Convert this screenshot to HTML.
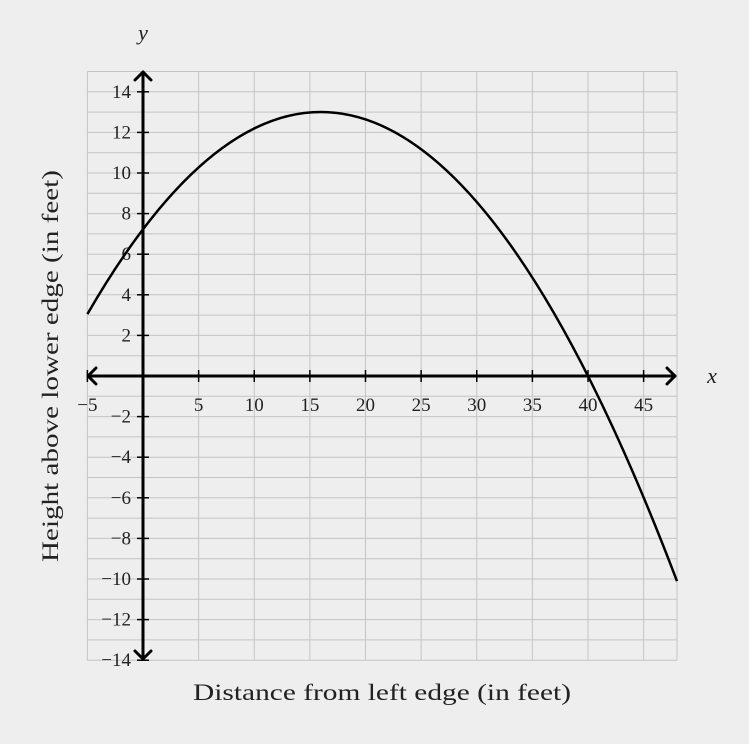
<!DOCTYPE html>
<html><head><meta charset="utf-8"><style>
html,body{margin:0;padding:0;background:#eeeeee;}
svg{display:block;}
text{font-family:"Liberation Serif",serif;fill:#222;}
</style></head><body>
<svg width="749" height="744" viewBox="0 0 749 744" xmlns="http://www.w3.org/2000/svg">
<rect width="749" height="744" fill="#eeeeee"/>
<g id="grid" stroke="#c4c4c4" stroke-width="1"></g>
<g id="ticks"></g>
<g id="labels" font-size="19"></g>
<path d="M87.4,314.1 Q381.9,-195.9 677,581.2" fill="none" stroke="#000" stroke-width="2.5"/>
<g stroke="#000" stroke-width="3" fill="none" stroke-linecap="round" stroke-linejoin="round">
<line x1="88" y1="376" x2="675" y2="376"/>
<polyline points="96,368 88,376 96,384"/>
<polyline points="667,368 675,376 667,384"/>
<line x1="143" y1="72" x2="143" y2="659"/>
<polyline points="135,80 143,72 151,80"/>
<polyline points="135,651 143,659 151,651"/>
</g>
<text x="143" y="40" font-size="22" font-style="italic" text-anchor="middle">y</text>
<text x="712" y="383" font-size="22" font-style="italic" text-anchor="middle">x</text>
<text x="193" y="700" font-size="23" textLength="378" lengthAdjust="spacingAndGlyphs">Distance from left edge (in feet)</text>
<text transform="translate(58,562) rotate(-90)" font-size="23" textLength="392" lengthAdjust="spacingAndGlyphs">Height above lower edge (in feet)</text>
</svg>
<script>
(function(){
var ns="http://www.w3.org/2000/svg";
function X(x){return 143+11.125*x;}
function Y(y){return 376-20.3*y;}
var g=document.getElementById('grid'),t=document.getElementById('ticks'),l=document.getElementById('labels');
function el(p,tag,a,txt){var e=document.createElementNS(ns,tag);for(var k in a)e.setAttribute(k,a[k]);if(txt!==undefined)e.textContent=txt;p.appendChild(e);return e;}
for(var v=-14;v<=15;v++){el(g,'line',{x1:X(-5),x2:X(48),y1:Y(v),y2:Y(v)});}
for(var x=-5;x<=45;x+=5){el(g,'line',{x1:X(x),x2:X(x),y1:Y(15),y2:Y(-14)});}
el(g,'line',{x1:X(48),x2:X(48),y1:Y(15),y2:Y(-14)});
for(var x=-5;x<=45;x+=5){if(x==0)continue;
 el(t,'line',{x1:X(x),x2:X(x),y1:370,y2:382,stroke:'#000','stroke-width':1.5});
 el(l,'text',{x:X(x),y:411,'text-anchor':'middle'},(x<0?'\u2212':'')+Math.abs(x));}
for(var v=-14;v<=14;v+=2){if(v==0)continue;
 el(t,'line',{x1:137,x2:149,y1:Y(v),y2:Y(v),stroke:'#000','stroke-width':1.5});
 el(l,'text',{x:131,y:Y(v)+6,'text-anchor':'end'},(v<0?'\u2212':'')+Math.abs(v));}
})();
</script>
</body></html>
